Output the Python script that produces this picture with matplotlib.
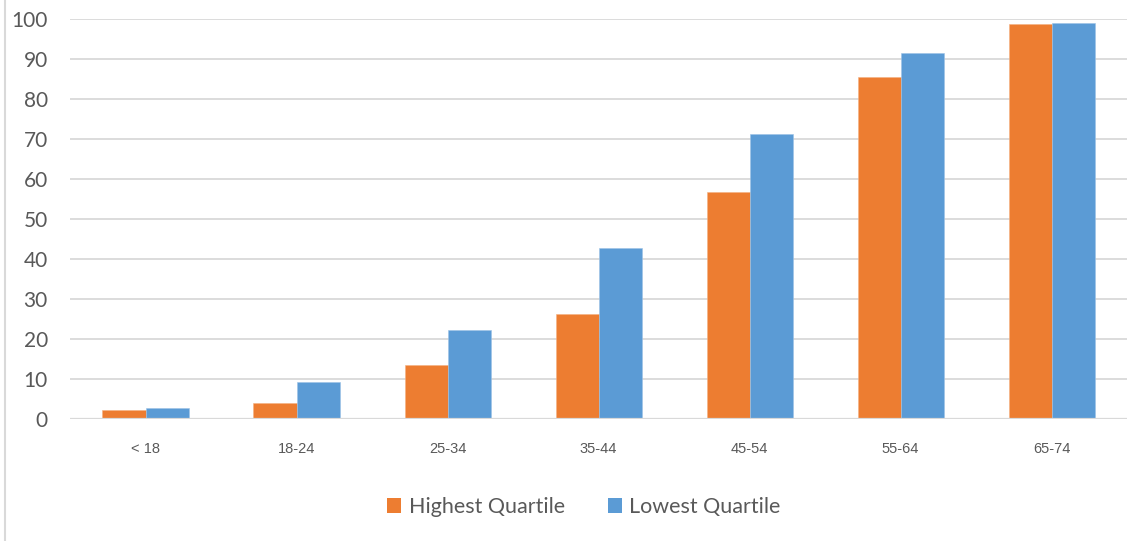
import numpy as np
import matplotlib
matplotlib.use("Agg")
import matplotlib.pyplot as plt
from matplotlib.patches import Patch
from matplotlib.lines import Line2D

# ── data ─────────────────────────────────────────────────────────────────────
age_groups = ["< 18", "18-24", "25-34", "35-44", "45-54", "55-64", "65-74"]
highest_quartile = [2.4, 4.0, 13.6, 26.4, 56.7, 85.5, 98.8]
lowest_quartile = [2.9, 9.4, 22.3, 42.9, 71.3, 91.6, 98.9]
y_ticks = list(range(0, 101, 10))

ORANGE = "#ED7D31"
BLUE = "#5B9BD5"
GRID = "#D9D9D9"
TEXT = "#595959"

fig = plt.figure(figsize=(11.42, 5.41), dpi=100, facecolor="white")
ax = fig.add_axes([0.0613, 0.2246, 0.9257, 0.7403])

x = np.arange(len(age_groups))
w = 0.285
ax.bar(x - w / 2, highest_quartile, w, color=ORANGE, edgecolor="#F4B183",
       linewidth=0.4, zorder=3, label="Highest Quartile")
ax.bar(x + w / 2, lowest_quartile, w, color=BLUE, edgecolor="#9DC3E6",
       linewidth=0.4, zorder=3, label="Lowest Quartile")

ax.set_xlim(-0.5, len(age_groups) - 0.5)
ax.set_ylim(0, 100)
ax.set_yticks(y_ticks)
ax.yaxis.grid(True, color=GRID, linewidth=1.3, zorder=0)
ax.set_axisbelow(True)
for s in ax.spines.values():
    s.set_visible(False)
ax.axhline(0, color=GRID, linewidth=1.6, zorder=4)

ax.set_xticks(x)
ax.set_xticklabels(age_groups, fontsize=10.5, color=TEXT, family="Liberation Sans")
ax.tick_params(axis="x", length=0, pad=16)
ax.tick_params(axis="y", length=0, pad=16, labelsize=15, labelcolor=TEXT)
for lbl in ax.get_yticklabels():
    lbl.set_family("Lato")

handles = [Patch(facecolor=ORANGE), Patch(facecolor=BLUE)]
fig.legend(handles, ["Highest Quartile", "Lowest Quartile"], loc="center",
           bbox_to_anchor=(584 / 1142, 1 - 507 / 541), ncol=2, frameon=False,
           prop={"family": "Lato", "size": 15.5}, labelcolor=TEXT,
           handlelength=0.65, handleheight=0.65, handletextpad=0.35,
           columnspacing=2.0)

# thin frame edge on the left
fig.add_artist(Line2D([4.5 / 1142, 4.5 / 1142], [0, 1], color=GRID, linewidth=1.5,
                      transform=fig.transFigure))

fig.savefig("out.png", dpi=100, facecolor="white")
